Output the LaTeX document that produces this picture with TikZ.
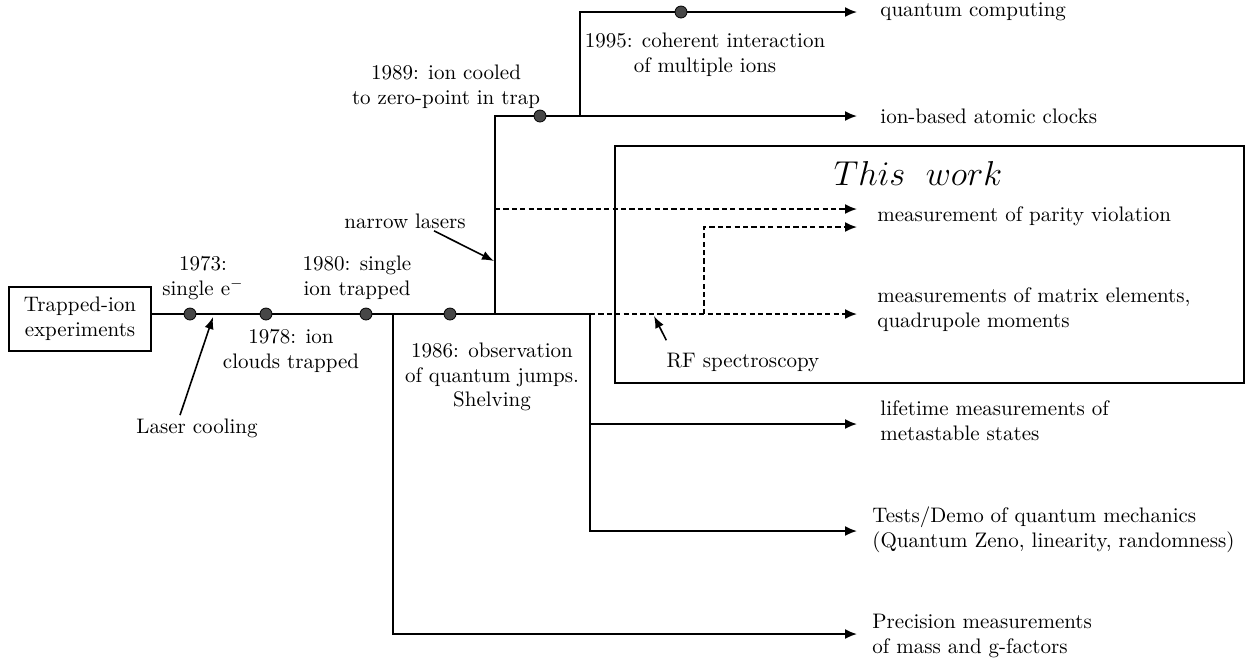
\documentclass[tikz,border=0pt]{standalone}
\usetikzlibrary{arrows.meta}
\begin{document}
\begin{tikzpicture}[x=0.5pt,y=-0.5pt,
  every node/.style={font=\fontsize{10.5}{12.4}\selectfont},
  ln/.style={line width=0.9pt},
  arr/.style={ln,-{Latex[length=6pt,width=5pt]}},
  parr/.style={line width=0.8pt,-{Latex[length=6pt,width=4.6pt]}},
  darr/.style={arr,dash pattern=on 2.6pt off 1.6pt},
  dot/.style={circle,fill=black!72,draw=black,line width=0.4pt,inner sep=0pt,minimum size=6pt},
  lbl/.style={anchor=west,align=left,inner sep=0pt},
  ctr/.style={align=center,inner sep=0pt},
  frame/.style={draw,line width=0.8pt}]
\useasboundingbox (0,0) rectangle (1257,661);

% start box
\node[frame,minimum width=71pt,minimum height=32pt,align=center,inner sep=0pt] (start) at (80,319) {Trapped-ion\\experiments};

% "This work" frame
\node[frame,minimum width=314.5pt,minimum height=118.5pt,anchor=north west,inner sep=0pt] (tw) at (614,145) {};
\node[inner sep=0pt] (twl) at (918,173) {\fontsize{17}{20}\selectfont$This\ \ work$};

% junctions and points
\coordinate (p73) at (190,314);
\coordinate (p78) at (266,314);
\coordinate (p80) at (366,314);
\coordinate (p86) at (450,314);
\coordinate (p89) at (540,116);
\coordinate (p95) at (681,12);
\coordinate (j1) at (393,314);
\coordinate (j2) at (495,314);
\coordinate (j3) at (590,314);
\coordinate (j4) at (704,314);
\coordinate (u2) at (580,116);
\coordinate (nl) at (495,209);
\coordinate (c1) at (590,424);
\coordinate (e1) at (857,12);
\coordinate (e2) at (857,116);
\coordinate (e3) at (857,209);
\coordinate (e4) at (857,227);
\coordinate (e5) at (857,314);
\coordinate (e6) at (857,424);
\coordinate (e7) at (857,531);
\coordinate (e8) at (857,634);
\coordinate (lct) at (213,317);
\coordinate (nlt) at (494,261);
\coordinate (rft) at (654,316);

% right-hand labels
\node[lbl] (qc) at (880,12) {quantum computing};
\node[lbl] (clk) at (880,116) {ion-based atomic clocks};
\node[lbl] (par) at (877,216) {measurement of parity violation};
\node[lbl] (mat) at (877,310) {measurements of matrix elements,\\quadrupole moments};
\node[lbl] (life) at (880,421) {lifetime measurements of\\metastable states};
\node[lbl] (qm) at (872,530) {Tests/Demo of quantum mechanics\\(Quantum Zeno, linearity, randomness)};
\node[lbl] (prec) at (872,636) {Precision measurements\\of mass and g-factors};

% timeline labels
\node[ctr] (t73) at (203,278) {1973:\\single e$^{-}$};
\node[ctr] (t78) at (291,351) {1978: ion\\clouds trapped};
\node[ctr] (t80) at (357,278) {1980: single\\ion trapped};
\node[ctr] (t86) at (492,377) {1986: observation\\of quantum jumps.\\Shelving};
\node[ctr] (t89) at (446,87) {1989: ion cooled\\to zero-point in trap};
\node[ctr] (t95) at (705,55) {1995: coherent interaction\\of multiple ions};
\node[inner sep=0pt] (laser) at (197,428) {Laser cooling};
\node[inner sep=0pt] (narrow) at (405,221) {narrow lasers};
\node[inner sep=0pt] (rf) at (743,362) {RF spectroscopy};

% main line and branches
\draw[ln] (start.east |- j1) -- (j3);
\draw[arr] (j1) |- (e8);
\draw[arr] (j3) |- (e7);
\draw[arr] (c1) -- (e6);
\draw[arr] (j2) |- (e2);
\draw[arr] (u2) |- (e1);
\draw[darr] (j3) -- (e5);
\draw[darr] (j4) |- (e4);
\draw[darr] (nl) -- (e3);

% pointer arrows
\draw[parr] ([xshift=-8.5pt,yshift=1.5pt]laser.north) -- (lct);
\draw[parr] ([xshift=14.5pt,yshift=-1pt]narrow.south) -- (nlt);
\draw[parr] ([shift={(0pt,6pt)}]rf.north west) -- (rft);

% dots
\node[dot] (d73) at (p73) {};
\node[dot] (d78) at (p78) {};
\node[dot] (d80) at (p80) {};
\node[dot] (d86) at (p86) {};
\node[dot] (d89) at (p89) {};
\node[dot] (d95) at (p95) {};
\end{tikzpicture}
\end{document}
